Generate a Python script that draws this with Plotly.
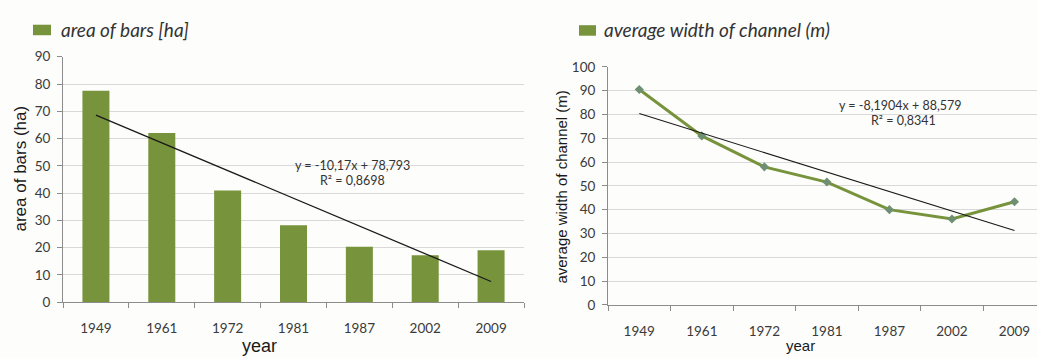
import numpy as np
import plotly.graph_objects as go

years = ["1949", "1961", "1972", "1981", "1987", "2002", "2009"]
bar_area_ha = [77.5, 62, 41, 28.2, 20.3, 17.2, 19.1]
channel_width_m = [90.5, 71, 58, 51.6, 40, 36.1, 43.3]

# linear trend coefficients (x = 1..7), as printed on the chart
area_trend = (-10.17, 78.793)
width_trend = (-8.1904, 88.579)

W, H = 1037, 358
GREEN = "#77933C"
GRID = "#d9d9d9"
AXIS = "#8c8c8c"
TICKFONT = dict(family="Lato, Open Sans, sans-serif", size=13.5, color="#3a3a3a")

xi = np.arange(1, len(years) + 1)
area_fit = area_trend[0] * xi + area_trend[1]
width_fit = width_trend[0] * xi + width_trend[1]

fig = go.Figure()

fig.add_trace(go.Bar(x=years, y=bar_area_ha, marker=dict(color=GREEN, line=dict(width=0)),
                     width=0.41, xaxis="x", yaxis="y", showlegend=False))
fig.add_trace(go.Scatter(x=years, y=area_fit, mode="lines", line=dict(color="#1a1a1a", width=1.3),
                         xaxis="x", yaxis="y", showlegend=False))

fig.add_trace(go.Scatter(x=years, y=channel_width_m, mode="lines+markers",
                         line=dict(color=GREEN, width=3),
                         marker=dict(symbol="diamond", size=7, color="#6f8f72"),
                         xaxis="x2", yaxis="y2", showlegend=False))
fig.add_trace(go.Scatter(x=years, y=width_fit, mode="lines", line=dict(color="#1a1a1a", width=1.1),
                         xaxis="x2", yaxis="y2", showlegend=False))


def px_x(p):
    return p / W


def px_y(p):
    return 1 - p / H


common_x = dict(type="category", tickson="boundaries", ticks="outside", ticklen=5,
                tickcolor=AXIS, showline=True, linecolor=AXIS, linewidth=1,
                showgrid=False, tickfont=TICKFONT, ticklabelstandoff=14, fixedrange=True)
common_y = dict(ticks="outside", ticklen=5, tickcolor=AXIS, showline=True, linecolor=AXIS,
                linewidth=1, showgrid=True, gridcolor=GRID, gridwidth=1, zeroline=False,
                tickfont=TICKFONT, ticklabelstandoff=4, fixedrange=True)

fig.update_layout(
    width=W, height=H,
    margin=dict(l=0, r=0, t=0, b=0),
    paper_bgcolor="#fdfdfb", plot_bgcolor="#fdfdfb",
    xaxis=dict(domain=[px_x(63), px_x(524)], range=[-0.5, 6.5], anchor="y", **common_x),
    yaxis=dict(domain=[px_y(308), px_y(51)], range=[0, 90], dtick=10, anchor="x", **common_y),
    xaxis2=dict(domain=[px_x(608), 1.0], range=[-0.5, 6.36], anchor="y2", **common_x),
    yaxis2=dict(domain=[px_y(310.7), px_y(61.7)], range=[0, 100], dtick=10, anchor="x2", **common_y),
)

# legend swatches
fig.add_shape(type="rect", xref="paper", yref="paper", x0=px_x(33), x1=px_x(51),
              y0=px_y(28.5), y1=px_y(17.5), fillcolor=GREEN, line=dict(width=0))
fig.add_shape(type="rect", xref="paper", yref="paper", x0=px_x(579), x1=px_x(596),
              y0=px_y(29), y1=px_y(18), fillcolor=GREEN, line=dict(width=0))

ann = []
ital = dict(family="Lato, Open Sans, sans-serif", size=19, color="#333333")
ann.append(dict(text="<i>area of bars [ha]</i>", x=px_x(59), y=px_y(23), xanchor="left",
                yanchor="middle", font=ital))
ann.append(dict(text="<i>average width of channel (m)</i>", x=px_x(602), y=px_y(23),
                xanchor="left", yanchor="middle", font=ital))

arial = "Liberation Sans, Arial, sans-serif"
ann.append(dict(text="area of bars (ha)", x=px_x(20), y=px_y(168), textangle=-90,
                xanchor="center", yanchor="middle", font=dict(family=arial, size=17, color="#1a1a1a")))
ann.append(dict(text="average width of channel (m)", x=px_x(562), y=px_y(188), textangle=-90,
                xanchor="center", yanchor="middle", font=dict(family=arial, size=15, color="#1a1a1a")))
ann.append(dict(text="year", x=px_x(259), y=px_y(341), xanchor="center", yanchor="top",
                font=dict(family=arial, size=18, color="#1a1a1a")))
ann.append(dict(text="year", x=px_x(800), y=px_y(342), xanchor="center", yanchor="top",
                font=dict(family=arial, size=15, color="#1a1a1a")))

eqfont = dict(family="Lato, Open Sans, sans-serif", size=12.5, color="#333333")


def fmt(v, nd):
    return f"{v:.{nd}f}".replace(".", ",")


ann.append(dict(text=f"y = {fmt(area_trend[0], 2)}x + {fmt(area_trend[1], 3)}", x=px_x(352), y=px_y(165),
                xanchor="center", yanchor="middle", font=eqfont))
ann.append(dict(text="R² = 0,8698", x=px_x(352), y=px_y(181), xanchor="center", yanchor="middle",
                font=eqfont))
ann.append(dict(text=f"y = {fmt(width_trend[0], 4)}x + {fmt(width_trend[1], 3)}", x=px_x(900), y=px_y(102),
                xanchor="center", yanchor="middle", font=eqfont))
ann.append(dict(text="R² = 0,8341", x=px_x(903), y=px_y(118), xanchor="center", yanchor="middle",
                font=eqfont))

for a in ann:
    a.update(xref="paper", yref="paper", showarrow=False)
fig.update_layout(annotations=ann)

fig.write_html("out.html", config={"displayModeBar": False})
